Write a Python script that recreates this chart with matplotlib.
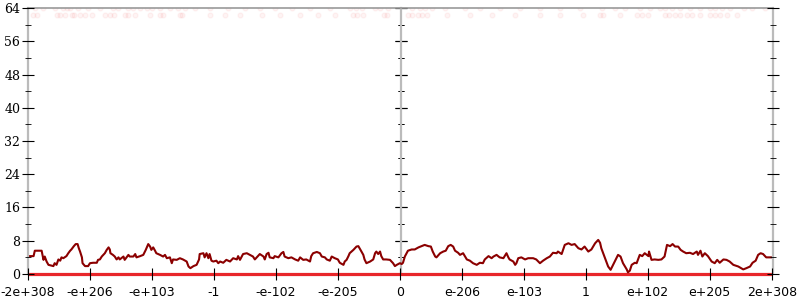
import matplotlib
matplotlib.use("Agg")
import matplotlib.pyplot as plt

# x axis is the ordinal position of the double; ticks every 1 unit
x_ticks = [-6, -5, -4, -3, -2, -1, 0, 1, 2, 3, 4, 5, 6]
x_labels = ["-2e+308", "-e+206", "-e+103", "-1", "-e-102", "-e-205", "0",
            "e-206", "e-103", "1", "e+102", "e+205", "2e+308"]
y_ticks = [0, 8, 16, 24, 32, 40, 48, 56, 64]
y_minor = [4, 12, 20, 28, 36, 44, 52, 60]

# averaged error (bits) along the input range
err_x = [-6.00, -5.91, -5.89, -5.78, -5.75, -5.73, -5.70, -5.67, -5.59, -5.57,
         -5.54, -5.51, -5.48, -5.46, -5.43, -5.38, -5.35, -5.32, -5.30, -5.26,
         -5.23, -5.20, -5.18, -5.16, -5.13, -5.12, -5.08, -5.03, -5.00, -4.95,
         -4.89, -4.87, -4.84, -4.81, -4.76, -4.73, -4.70, -4.68, -4.67, -4.63,
         -4.60, -4.57, -4.54, -4.52, -4.46, -4.44, -4.41, -4.38, -4.36, -4.30,
         -4.27, -4.25, -4.19, -4.14, -4.10, -4.06, -4.03, -4.01, -3.98, -3.95,
         -3.93, -3.87, -3.82, -3.79, -3.76, -3.71, -3.68, -3.66, -3.60, -3.55,
         -3.50, -3.44, -3.41, -3.38, -3.33, -3.28, -3.24, -3.23, -3.17, -3.15,
         -3.12, -3.09, -3.07, -3.04, -3.01, -2.96, -2.93, -2.90, -2.85, -2.80,
         -2.74, -2.69, -2.63, -2.61, -2.58, -2.53, -2.47, -2.42, -2.37, -2.34,
         -2.31, -2.26,
         -2.20, -2.18, -2.15, -2.12, -2.10, -2.04, -2.02, -1.96, -1.91, -1.88,
         -1.86, -1.80, -1.75, -1.69, -1.64, -1.61, -1.56, -1.51, -1.45, -1.43,
         -1.40, -1.34, -1.29, -1.26, -1.21, -1.18, -1.13, -1.10, -1.05, -1.00,
         -0.97, -0.91, -0.89, -0.86, -0.83, -0.81, -0.75, -0.70, -0.67, -0.65,
         -0.62, -0.59, -0.57, -0.54, -0.48, -0.43, -0.40, -0.38, -0.35, -0.32,
         -0.30, -0.27, -0.22, -0.16, -0.11, -0.08, -0.05, 0.00, 0.03, 0.05,
         0.08, 0.13, 0.19, 0.24, 0.30, 0.35, 0.40, 0.46, 0.50, 0.53,
         0.57, 0.59, 0.65, 0.70, 0.74, 0.78, 0.82, 0.86, 0.89, 0.94,
         0.97, 1.02, 1.08, 1.13, 1.18, 1.24, 1.29, 1.34, 1.37, 1.43,
         1.48, 1.51, 1.56, 1.61, 1.67, 1.72, 1.75, 1.77, 1.83, 1.86,
         1.88, 1.91, 1.96, 2.02, 2.07,
         2.15, 2.20, 2.26, 2.31, 2.37, 2.42, 2.47, 2.53, 2.55, 2.61,
         2.66, 2.72, 2.77, 2.82, 2.88, 2.93, 2.98, 3.04, 3.09, 3.15,
         3.20, 3.23, 3.25, 3.28, 3.32, 3.36, 3.40, 3.44, 3.48, 3.52,
         3.56, 3.60, 3.66, 3.68, 3.71, 3.74, 3.79, 3.82, 3.87, 3.91,
         3.95, 4.01, 4.02, 4.06, 4.11, 4.17, 4.22, 4.27, 4.31, 4.36,
         4.40, 4.44, 4.49, 4.53, 4.57, 4.62, 4.68, 4.73, 4.79, 4.81,
         4.85, 4.88, 4.92, 4.97, 5.03, 5.08, 5.12, 5.16, 5.22, 5.27,
         5.32, 5.38, 5.46, 5.54, 5.59, 5.65, 5.69, 5.74, 5.78, 5.82,
         5.86, 5.91, 6.00]
err_y = [4.3, 4.3, 5.6, 5.6, 3.4, 4.2, 3.0, 2.2, 1.9, 2.6,
         2.2, 3.5, 3.2, 4.0, 3.8, 4.3, 5.0, 5.6, 5.9, 6.7,
         7.2, 7.2, 6.2, 5.4, 4.0, 2.6, 1.9, 1.9, 2.6, 2.7,
         2.7, 3.4, 3.5, 4.2, 5.0, 5.8, 6.4, 5.9, 5.0, 4.6,
         4.2, 3.5, 4.0, 3.5, 4.2, 3.4, 4.0, 4.6, 4.2, 4.2,
         4.8, 4.0, 4.3, 4.6, 5.8, 7.2, 6.6, 5.8, 6.4, 5.6,
         5.0, 4.6, 4.2, 4.6, 3.8, 4.0, 2.6, 3.5, 3.4, 3.8,
         3.5, 3.0, 1.8, 1.4, 1.9, 2.2, 3.5, 4.8, 5.0, 4.0,
         5.0, 3.8, 4.8, 3.2, 3.0, 3.2, 2.6, 3.0, 2.7, 3.4,
         3.0, 3.8, 3.5, 4.3, 3.4, 4.8, 5.0, 4.6, 4.2, 3.5,
         4.0, 4.8,
         4.2, 3.5, 4.8, 5.1, 4.0, 3.8, 4.3, 4.0, 5.0, 5.3,
         4.2, 3.8, 4.0, 3.5, 3.2, 4.0, 3.4, 3.5, 3.0, 4.3,
         5.0, 5.3, 5.0, 4.2, 4.0, 3.5, 3.2, 4.2, 3.8, 3.5,
         2.7, 2.2, 3.0, 3.4, 4.3, 5.0, 5.8, 6.6, 6.7, 6.2,
         5.4, 4.6, 3.5, 2.6, 3.0, 3.5, 5.0, 5.4, 4.8, 5.4,
         4.3, 3.5, 3.5, 3.4, 2.6, 1.9, 2.2, 2.6, 2.4, 2.7,
         4.2, 5.6, 5.9, 5.9, 6.4, 6.7, 7.0, 6.7, 6.6, 5.4,
         4.2, 4.0, 5.0, 5.4, 5.6, 6.7, 7.0, 6.6, 5.6, 5.1,
         4.6, 5.0, 3.5, 3.2, 2.6, 2.2, 2.7, 2.6, 3.5, 4.3,
         3.8, 4.2, 4.6, 4.0, 3.8, 5.0, 4.0, 3.5, 3.0, 2.2,
         2.6, 3.8, 4.0, 3.5, 3.8,
         3.8, 3.5, 2.6, 3.2, 3.8, 4.2, 5.1, 5.0, 5.4, 4.8,
         7.0, 7.4, 7.0, 7.2, 6.2, 5.9, 6.6, 5.4, 5.9, 7.4,
         8.2, 7.5, 6.2, 5.0, 3.4, 1.8, 1.0, 2.2, 3.4, 4.6,
         4.2, 2.6, 1.1, 0.4, 0.8, 2.2, 2.7, 2.6, 4.6, 4.3,
         5.0, 4.3, 5.4, 3.4, 3.5, 3.4, 3.5, 4.2, 7.0, 6.7,
         7.2, 6.6, 6.6, 5.8, 5.4, 5.0, 5.1, 4.8, 5.4, 4.6,
         5.6, 4.2, 5.0, 4.3, 3.0, 2.6, 3.4, 2.7, 3.5, 3.4,
         3.0, 2.2, 1.8, 1.1, 1.4, 1.8, 2.7, 3.2, 4.6, 5.0,
         4.8, 4.0, 4.0]

# individual sample points: exact ones (0 bits) and the very bad ones near 64
zero_x = [-6.0, 6.0]
zero_y = [0.0, 0.0]
high_x = [-5.92, -5.85, -5.53, -5.48, -5.40, -5.29, -5.26, -5.16, -5.08, -4.97,
          -4.76, -4.68, -4.61, -4.44, -4.39, -4.27, -4.03, -3.87, -3.82, -3.55,
          -3.52, -3.06, -2.82, -2.58, -2.23, -1.94, -1.61, -1.32, -1.05, -0.76,
          -0.69, -0.60, -0.26, -0.21, 0.13, 0.19, 0.29, 0.35, 0.44, 0.76,
          1.13, 1.48, 1.85, 2.26, 2.58, 2.95, 3.23, 3.27, 3.55, 3.82,
          3.90, 4.00, 4.27, 4.35, 4.44, 4.52, 4.63, 4.71, 4.84, 5.00,
          5.08, 5.16, 5.27, 5.44]
high_err = 62.2
top_x = [-5.89, -5.76, -5.56, -5.44, -5.37, -5.32, -5.19, -5.03, -4.84, -4.63,
         -4.55, -4.39, -4.31, -4.19, -4.08, -4.00, -3.87, -3.71, -3.58, -3.47,
         -3.31, -3.06, -2.77, -2.50, -2.26, -2.02, -1.74, -1.45, -1.13, -0.81,
         -0.71, -0.61, -0.40, -0.32, -0.19, 0.19, 0.32, 0.40, 0.52, 0.73,
         1.05, 1.29, 1.61, 1.94, 2.26, 2.58, 2.90, 3.26, 3.47, 3.63,
         3.87, 4.03, 4.19, 4.27, 4.39, 4.52, 4.68, 4.84, 5.00, 5.08,
         5.19, 5.32, 5.56, 5.68, 5.89]
top_err = 63.9

gray = "#bbbbbb"

fig = plt.figure(figsize=(8, 3), dpi=100)
ax = fig.add_axes([0.035, 0.0867, 0.93125, 0.8866])

ax.plot(high_x, [high_err] * len(high_x), "o", ms=3.5, color="#ee0000", alpha=0.045, zorder=1)
ax.plot(top_x, [top_err] * len(top_x), "o", ms=3.5, color="#ee0000", alpha=0.045, zorder=1)
ax.plot(zero_x, zero_y, color="#e8262a", lw=2.3, solid_capstyle="butt", zorder=2, clip_on=False)
ax.plot(err_x, err_y, color="#8b0000", lw=1.5, zorder=2.2)

ax.set_xlim(-6, 6.02)
ax.set_ylim(0, 64)
ax.set_axisbelow(False)

for side in ["left", "right"]:
    ax.spines[side].set_color(gray)
    ax.spines[side].set_linewidth(1.6)
ax.spines["top"].set_color("#999999")
ax.spines["top"].set_linewidth(1.2)
ax.spines["bottom"].set_visible(False)

ax.set_xticks(x_ticks, labels=x_labels)
ax.set_yticks(y_ticks, labels=[str(v) for v in y_ticks], fontfamily="DejaVu Serif")
ax.set_yticks(y_minor, minor=True)
ax.tick_params(axis="x", direction="inout", length=8, width=0.8, pad=5, labelsize=9)
ax.tick_params(axis="y", which="major", direction="inout", length=8, width=0.8,
               left=True, right=True, pad=1.5, labelsize=9)
ax.tick_params(axis="y", which="minor", direction="inout", length=4.3, width=0.6,
               left=True, right=True)

# middle axis at x = 0
mid = ax.secondary_yaxis(0.5)
mid.set_yticks(y_ticks)
mid.set_yticks(y_minor, minor=True)
mid.tick_params(which="major", direction="inout", length=8, width=0.8,
                left=True, right=True, labelleft=False, labelright=False)
mid.tick_params(which="minor", direction="inout", length=4.3, width=0.6,
                left=True, right=True)
for s in mid.spines.values():
    s.set_color(gray)
    s.set_linewidth(1.6)

fig.savefig("out.png", dpi=100)
